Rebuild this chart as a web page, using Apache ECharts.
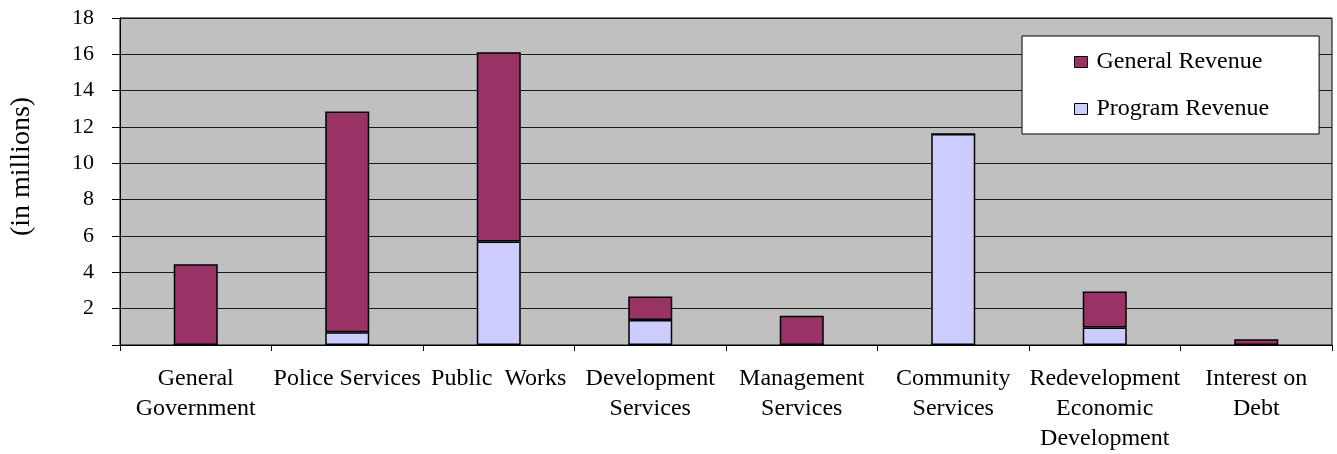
<!DOCTYPE html>
<html>
<head>
<meta charset="utf-8">
<script src="https://cdn.jsdelivr.net/npm/echarts@6/dist/echarts.min.js"></script>
<style>
    html, body { margin: 0; padding: 0; background: #ffffff; }
    #chart { width: 1337px; height: 454px; }
</style>
</head>
<body>
<div id="chart"></div>
<script>
// 分类名称（换行与原图一致）
const categories = [
    'General\nGovernment',
    'Police Services',
    'Public  Works',
    'Development\nServices',
    'Management\nServices',
    'Community\nServices',
    'Redevelopment\nEconomic\nDevelopment',
    'Interest on\nDebt'
]
// 收入数据（单位：百万）
const programRevenue = [0, 0.7, 5.7, 1.37, 0, 11.62, 0.97, 0]
const generalRevenue = [4.45, 12.16, 10.42, 1.3, 1.61, 0, 1.98, 0.31]
const seriesNames = ['General Revenue', 'Program Revenue']

const font = 'Liberation Serif, Times New Roman, serif'
const colors = {
    general: '#993366',
    program: '#ccccff',
    plotBg: '#c0c0c0',
    line: '#000000'
}

const chart = echarts.init(document.getElementById('chart'))

const option = {
    backgroundColor: '#ffffff',
    animation: false,
    grid: {
        left: 118,
        right: 5,
        top: 18,
        bottom: 108,
        show: true,
        backgroundColor: colors.plotBg,
        borderColor: colors.line,
        borderWidth: 1
    },
    legend: {
        orient: 'vertical',
        left: 1022,
        top: 36,
        data: seriesNames,
        backgroundColor: '#ffffff',
        borderColor: colors.line,
        borderWidth: 1,
        padding: [14, 50, 13, 52],
        itemGap: 23,
        itemWidth: 13,
        itemHeight: 11,
        icon: 'rect',
        itemStyle: {
            borderColor: colors.line,
            borderWidth: 1
        },
        textStyle: {
            fontFamily: font,
            fontSize: 24,
            lineHeight: 24,
            padding: [0, 0, 0, 4],
            color: '#000'
        }
    },
    xAxis: {
        type: 'category',
        data: categories,
        axisLine: {
            lineStyle: { color: colors.line }
        },
        axisTick: {
            show: true,
            length: 6,
            lineStyle: { color: colors.line }
        },
        axisLabel: {
            interval: 0,
            margin: 19,
            fontFamily: font,
            fontSize: 24,
            lineHeight: 30,
            color: '#000'
        }
    },
    yAxis: {
        type: 'value',
        min: 0,
        max: 18,
        interval: 2,
        name: '(in millions)',
        nameLocation: 'middle',
        nameRotate: 90,
        nameGap: 84,
        nameTextStyle: {
            fontFamily: font,
            fontSize: 28,
            color: '#000',
            padding: [0, 0, 0, 30]
        },
        axisLine: {
            show: true,
            lineStyle: { color: colors.line }
        },
        axisTick: {
            show: true,
            length: 8,
            lineStyle: { color: colors.line }
        },
        axisLabel: {
            margin: 26,
            fontFamily: font,
            fontSize: 22,
            color: '#000',
            formatter: (v) => (v === 0 ? '' : String(v))
        },
        splitLine: {
            show: true,
            lineStyle: { color: '#1a1a1a', width: 1 }
        }
    },
    series: [
        {
            name: 'Program Revenue',
            type: 'bar',
            stack: 'total',
            barWidth: 44,
            data: programRevenue,
            itemStyle: {
                color: colors.program,
                borderColor: colors.line,
                borderWidth: 1.5
            }
        },
        {
            name: 'General Revenue',
            type: 'bar',
            stack: 'total',
            barWidth: 44,
            data: generalRevenue,
            itemStyle: {
                color: colors.general,
                borderColor: colors.line,
                borderWidth: 1.5
            }
        }
    ]
}

chart.setOption(option)
</script>
</body>
</html>
